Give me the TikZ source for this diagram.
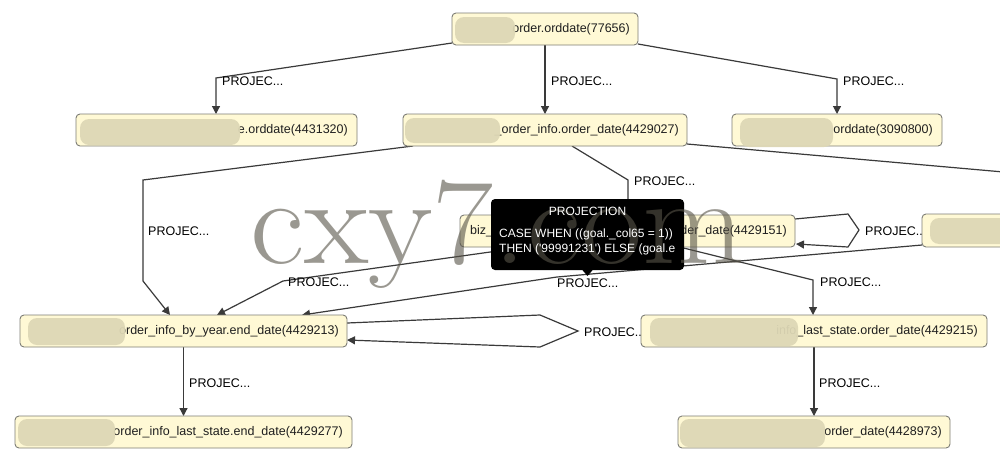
\documentclass[tikz,border=0pt]{standalone}
\usepackage{fontspec}
\usepackage{graphicx}
\newfontfamily\arialf{Liberation Sans}
\usetikzlibrary{arrows.meta,calc}
\definecolor{nodefill}{RGB}{255,249,213}
\definecolor{nodeedge}{RGB}{125,125,118}
\definecolor{edgecol}{RGB}{58,58,58}
\definecolor{blurcol}{RGB}{222,216,182}
\definecolor{wmcol}{RGB}{88,84,72}
\tikzset{
  nodebox/.style={draw=nodeedge, fill=nodefill, rounded corners=4pt, line width=0.9pt, inner sep=0pt, outer sep=0pt},
  ntext/.style={font=\arialf\fontsize{12.5}{14}\selectfont, text=black!88, inner sep=0pt, anchor=east},
  edge/.style={draw=edgecol, line width=1.2pt, -{Triangle[length=8pt,width=8pt]}},
  plainedge/.style={draw=edgecol, line width=1.2pt},
  plbl/.style={font=\arialf\fontsize{12.5}{14}\selectfont, inner sep=0pt, anchor=west, text=black},
  blurfill/.style={fill=blurcol, rounded corners=9pt, opacity=0.94},
  tipbox/.style={fill=black, rounded corners=4pt, inner sep=0pt, outer sep=0pt},
  tiptext/.style={font=\arialf\fontsize{12}{14}\selectfont, text=white, inner sep=0pt},
  wmark/.style={font=\rmfamily\fontsize{123}{123}\selectfont, text=wmcol, text opacity=0.6, inner sep=0pt}
}
\begin{document}
\begin{tikzpicture}[x=1pt,y=-1pt]
\useasboundingbox (0,0) rectangle (1000,458);
\fill[white] (0,0) rectangle (1000,458);
\clip (0,0) rectangle (1000,458);

% node frames (placed here, drawn later)
\path
  (545,29)    node[minimum width=186pt, minimum height=32pt, inner sep=0pt, outer sep=0pt] (n1) {}
  (216.5,130) node[minimum width=281pt, minimum height=32pt, inner sep=0pt, outer sep=0pt] (n2) {}
  (545,130)   node[minimum width=284pt, minimum height=32pt, inner sep=0pt, outer sep=0pt] (n3) {}
  (837,130)   node[minimum width=210pt, minimum height=32pt, inner sep=0pt, outer sep=0pt] (n4) {}
  (627.5,231) node[minimum width=335pt, minimum height=32pt, inner sep=0pt, outer sep=0pt] (n5) {}
  (991,230.5) node[minimum width=138pt, minimum height=33pt, inner sep=0pt, outer sep=0pt] (n6) {}
  (183.5,331) node[minimum width=327pt, minimum height=32pt, inner sep=0pt, outer sep=0pt] (n7) {}
  (814,331)   node[minimum width=346pt, minimum height=32pt, inner sep=0pt, outer sep=0pt] (n8) {}
  (183.5,432) node[minimum width=337pt, minimum height=32pt, inner sep=0pt, outer sep=0pt] (n9) {}
  (814,432)   node[minimum width=272pt, minimum height=32pt, inner sep=0pt, outer sep=0pt] (n10) {};

% bend points
\coordinate (b1) at (216,78);
\coordinate (b3) at (837,79);
\coordinate (b4a) at (143,180);
\coordinate (b4b) at (143,281);
\coordinate (b5) at (628,180);
\coordinate (off6) at (1060,177);
\coordinate (l7a) at (848,214);
\coordinate (l7b) at (859,230);
\coordinate (l7c) at (848,247);
\coordinate (b8) at (283,281);
\coordinate (b9) at (557,277);
\coordinate (l10a) at (540,315);
\coordinate (l10b) at (578,331);
\coordinate (l10c) at (540,347);
\coordinate (b11) at (813,280);

% connectors
\draw[edge] ($(n1.south west)+(0,-2)$) -- (b1) -- (b1 |- n2.north);
\draw[edge] (n1.south) -- (n3.north);
\draw[edge] ($(n1.south east)+(0,-1)$) -- (b3) -- (b3 |- n4.north);
\draw[edge] ($(n3.south west)+(10,0)$) -- (b4a) -- (b4b) -- ($(n7.north west)+(150,0)$);
\draw[edge] ($(n3.south west)+(169,0)$) -- (b5) -- (b5 |- n5.north);
\draw[plainedge] ($(n3.south east)+(0,-2)$) -- (off6);
\draw[edge] ($(n5.north east)+(0,4)$) -- (l7a) -- (l7b) -- (l7c) -- ($(n5.south east)+(1,-3)$);
\draw[edge] ($(n5.south west)+(66,0)$) -- (b8) -- ($(n7.north west)+(197,0)$);
\draw[edge] ($(n6.south west)+(0,-2)$) -- (b9) -- ($(n7.north west)+(282,0)$);
\draw[edge] ($(n7.north east)+(0,8)$) -- (l10a) -- (l10b) -- (l10c) -- ($(n7.south east)+(0,-7)$);
\draw[edge] ($(n5.south)+(52,0)$) -- (b11) -- (b11 |- n8.north);
\draw[edge] (n7.south) -- (n9.north);
\draw[edge] (n8.south) -- (n10.north);

% connector labels
\node[plbl] (p1) at (222,81) {PROJEC...};
\node[plbl] (p2) at (551,81) {PROJEC...};
\node[plbl] (p3) at (843,81) {PROJEC...};
\node[plbl] (p4) at (148,231) {PROJEC...};
\node[plbl] (p5) at (634,181) {PROJEC...};
\node[plbl] (p6) at (865,231) {PROJEC...};
\node[plbl] (p7) at (288,282) {PROJEC...};
\node[plbl] (p8) at (557,283) {PROJEC...};
\node[plbl] (p9) at (584,332) {PROJEC...};
\node[plbl] (p10) at (820,282) {PROJEC...};
\node[plbl] (p11) at (189,383) {PROJEC...};
\node[plbl] (p12) at (819,383) {PROJEC...};

% node boxes
\foreach \n in {n1,n2,n3,n4,n5,n6,n7,n8,n9,n10}
  \draw[nodebox] (\n.south west) rectangle (\n.north east);

% node texts
\node[ntext] (t1) at (630,29.5) {order.orddate(77656)};
\node[ntext] (t2) at (348,130.5) {e.orddate(4431320)};
\node[ntext] (t3) at (679,130.5) {\_order\_info.order\_date(4429027)};
\node[ntext] (t4) at (933,130.5) {orddate(3090800)};
\node[ntext, anchor=west] (t5a) at (470,231.5) {biz\_};
\node[ntext] (t5b) at (787,231.5) {der\_date(4429151)};
\node[ntext] (t7) at (339,331.5) {order\_info\_by\_year.end\_date(4429213)};
\node[ntext] (t8) at (978,331.5) {info\_last\_state.order\_date(4429215)};
\node[ntext] (t9) at (343,432.5) {order\_info\_last\_state.end\_date(4429277)};
\node[ntext] (t10) at (942,432.5) {order\_date(4428973)};

% blurred parts
\fill[blurfill] (455,17) rectangle (515,43);
\fill[blurfill] (80,119) rectangle (240,145);
\fill[blurfill] (405,118) rectangle (500,143);
\fill[blurfill] (740,118) rectangle (833,147);
\fill[blurfill] (930,218) rectangle (1010,244);
\fill[blurfill] (28,318) rectangle (125,345);
\fill[blurfill] (650,318) rectangle (798,346);
\fill[blurfill] (18,419) rectangle (115,446);
\fill[blurfill] (680,419) rectangle (825,447);

% tooltip box
\node[tipbox, minimum width=193pt, minimum height=71pt] (tip) at (587.5,234.5) {};
\fill[black] (581.5,269) -- (593.5,269) -- (587.5,276) -- cycle;

% watermark
\node[wmark, anchor=base west] (wm) at (250,263) {\scalebox{1.08}[1]{cxy7.com}};

% tooltip text (above the watermark)
\node[tiptext] (tip1) at (587.5,211) {PROJECTION};
\node[tiptext, anchor=west] (tip2) at (499,234) {CASE WHEN ((goal.\_col65 = 1))};
\node[tiptext, anchor=west] (tip3) at (499,249) {THEN ('99991231') ELSE (goal.e};
\end{tikzpicture}
\end{document}
